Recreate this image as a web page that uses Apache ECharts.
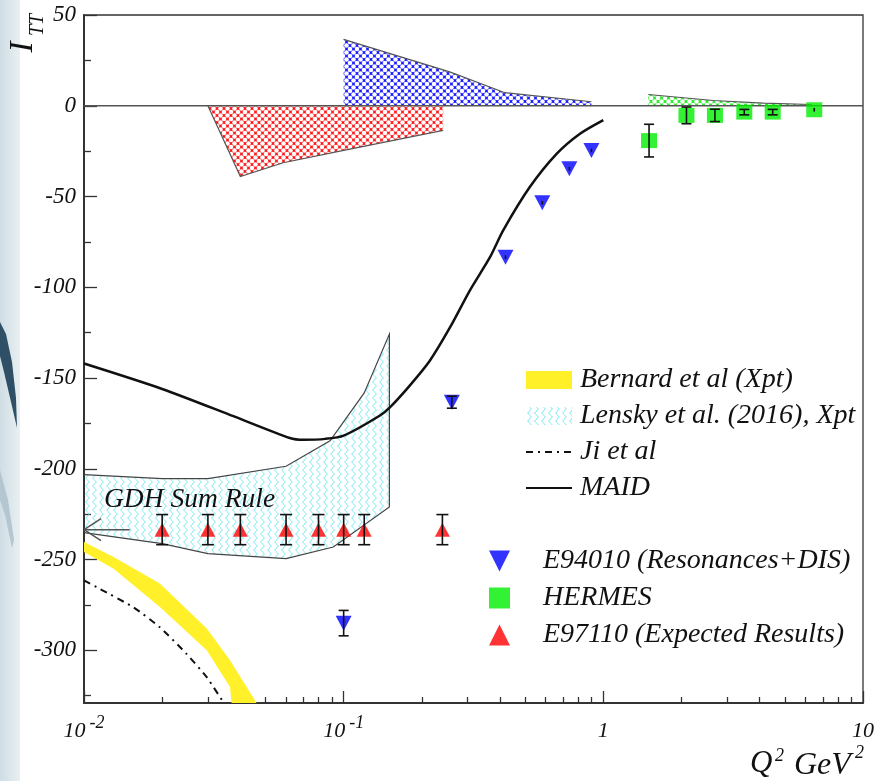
<!DOCTYPE html>
<html><head><meta charset="utf-8">
<script src="https://cdn.jsdelivr.net/npm/echarts@6/dist/echarts.min.js"></script>
<style>html,body{margin:0;padding:0;background:#fff}#c{width:875px;height:781px}</style>
</head><body><div id="c"></div>
<script>
// ---------- axis ticks / labels ----------
const xMajorTicks = [0.01, 0.1, 1, 10];
const xTickBase = ['10', '10', '1', '10'];
const xTickExp = ['-2', '-1', '', ''];
const xMinorTicks = [0.02,0.03,0.04,0.05,0.06,0.07,0.08,0.09,0.2,0.3,0.4,0.5,0.6,0.7,0.8,0.9,2,3,4,5,6,7,8,9];
const yMajorTicks = [-300,-250,-200,-150,-100,-50,0,50];
const yMinorTicks = [-325,-275,-225,-175,-125,-75,-25,25];

// ---------- curves ----------
const maidCurve = [[0.01,-142],[0.02,-156],[0.0376,-171],[0.062,-183],[0.07,-184],[0.085,-183.5],[0.1,-181.7],[0.138,-170.6],[0.151,-166],[0.18,-154],[0.215,-140.3],[0.257,-122],[0.306,-101.8],[0.366,-83.4],[0.412,-68.5],[0.521,-44.8],[0.662,-26.4],[0.813,-15.4],[1.0,-7.9]];
const jiCurve = [[0.01,-261.4],[0.0115,-266.1],[0.0155,-276.3],[0.0196,-287.3],[0.0248,-301.9],[0.0297,-314.8],[0.0344,-328.6]];

// ---------- bands (polygons) ----------
const bernardBand = [[0.01,-240.3],[0.013,-248.6],[0.0196,-263.2],[0.0297,-288.0],[0.0365,-305.5],[0.0462,-329],[0.037,-329],[0.0365,-320.2],[0.0297,-299.9],[0.0196,-276.1],[0.013,-255.0],[0.01,-245.8]];
const lenskyBand = [[0.01,-203.2],[0.02,-205.4],[0.03,-205.4],[0.06,-198.6],[0.0886,-184.6],[0.12,-158.2],[0.15,-125.8],[0.15,-221],[0.0912,-243.1],[0.06,-249.5],[0.03,-246.7],[0.02,-241.2],[0.01,-235.1]];
const redSysBand = [[0.03,0],[0.04,-39],[0.0585,-31.4],[0.1,-24.6],[0.2417,-13.6],[0.2417,0]];
const blueSysBand = [[0.1,0],[0.1,36.6],[0.256,18.7],[0.418,7.2],[0.9,2.2],[0.9,0]];
const greenSysBand = [[1.49,0],[1.49,6.2],[2.65,2.9],[4.13,1.4],[6.34,0.7],[6.6,0]];
const zeroLine = [[0.01,0],[10,0]];
const gdhArrow = [[0.01,-233.5],[0.015,-233.5]];

// ---------- data points [Q2, I_TT, error] ----------
const e94010 = [[0.1,-285,7],[0.261,-163.3,3.3],[0.42,-83.4,1],[0.582,-53.4,1],[0.74,-34.7,1],[0.90,-24.6,1]];
const hermes = [[1.5,-19.2,9],[2.09,-5.3,4.6],[2.69,-5.3,3.4],[3.49,-3.5,1.5],[4.49,-3.5,1.5],[6.49,-2.2,1]];
const e97110 = [[0.02,-233.5,8.3],[0.03,-233.5,8.3],[0.04,-233.5,8.3],[0.06,-233.5,8.3],[0.08,-233.5,8.3],[0.1,-233.5,8.3],[0.12,-233.5,8.3],[0.24,-233.5,8.3]];

const FONT = "'Liberation Serif','Times New Roman',serif";

function makeMesh(color){
  const s=7, c=document.createElement('canvas'); c.width=s; c.height=s;
  const g=c.getContext('2d'); g.fillStyle=color; g.fillRect(0,0,s,s);
  g.fillStyle='#fff';
  [[0,0],[s,0],[0,s],[s,s],[s/2,s/2]].forEach(p=>{g.beginPath();g.arc(p[0],p[1],2.3,0,Math.PI*2);g.fill();});
  return {image:c, repeat:'repeat'};
}
function makeWave(color){
  const w=7, h=8, c=document.createElement('canvas'); c.width=w; c.height=h;
  const g=c.getContext('2d'); g.strokeStyle=color; g.lineWidth=1;
  g.beginPath();
  for(let y=0;y<=h;y+=0.5){const x=w/2+1.5*Math.sin(2*Math.PI*y/h); if(y===0)g.moveTo(x,y); else g.lineTo(x,y);}
  g.stroke();
  return {image:c, repeat:'repeat'};
}
const wavePat = makeWave('#5ee3f2');
const yellow = '#fff02a';

function polySeries(name, pts, fill, edgeFrom, edgeTo, edgeColor, z){
  return {type:'custom', name, z, silent:true, data:pts, encode:{x:0,y:1},
    itemStyle:{color:fill},
    renderItem(params, api){
      if(params.dataIndex!==0) return null;
      const P = pts.map(p=>api.coord(p));
      const ch=[{type:'polygon', shape:{points:P}, style:{fill:fill, stroke:null}}];
      if(edgeColor) ch.push({type:'polyline', shape:{points:P.slice(edgeFrom, edgeTo)}, style:{stroke:edgeColor, lineWidth:1.2, fill:null}});
      return {type:'group', children:ch};
    }};
}
function errSeries(data, capW, z){
  return {type:'custom', silent:true, z, data, encode:{x:0,y:1},
    renderItem(params, api){
      const x=api.value(0), y=api.value(1), e=api.value(2);
      const t=api.coord([x,y+e]), b=api.coord([x,y-e]);
      const st={stroke:'#111', lineWidth:1.6};
      const ch=[{type:'line', shape:{x1:t[0],y1:t[1],x2:b[0],y2:b[1]}, style:st}];
      if(b[1]-t[1]>5){
        ch.push({type:'line', shape:{x1:t[0]-capW/2,y1:t[1],x2:t[0]+capW/2,y2:t[1]}, style:st});
        ch.push({type:'line', shape:{x1:b[0]-capW/2,y1:b[1],x2:b[0]+capW/2,y2:b[1]}, style:st});
      }
      return {type:'group', children:ch};
    }};
}

const chart = echarts.init(document.getElementById('c'), null, {renderer:'canvas'});
const labelFont = {fontFamily:FONT, fontStyle:'italic', color:'#111'};
const downTri = 'path://M0,0 L20,0 L10,20 Z';
const upTri = 'path://M10,0 L20,20 L0,20 Z';

const option = {
  animation:false,
  backgroundColor:'#fff',
  grid:{left:84, right:12, top:15, bottom:78, show:true, borderColor:'#333', borderWidth:1.3, containLabel:false, outerBoundsMode:'none'},
  xAxis:[
    {type:'log', logBase:10, min:0.01, max:10, position:'bottom',
     axisLine:{show:true, onZero:false, lineStyle:{color:'#333', width:2}},
     axisTick:{show:true, inside:true, length:12, customValues:xMajorTicks, lineStyle:{color:'#333', width:1.3}},
     splitLine:{show:false}, minorTick:{show:false},
     axisLabel:{show:true, margin:3, customValues:xMajorTicks,
       formatter:function(v){const i=xMajorTicks.findIndex(t=>Math.abs(Math.log10(t)-Math.log10(v))<1e-6); if(i<0) return ''; return xTickExp[i] ? '{b|'+xTickBase[i]+'}{s|'+xTickExp[i]+'}' : '{b|'+xTickBase[i]+'}';},
       rich:{b:Object.assign({fontSize:22, lineHeight:36, verticalAlign:'bottom'},labelFont), s:Object.assign({fontSize:18, lineHeight:20, verticalAlign:'top', padding:[8,0,0,4]},labelFont)}}},
    {type:'log', logBase:10, min:0.01, max:10, position:'bottom', offset:0,
     axisLine:{show:false, onZero:false}, axisLabel:{show:false}, splitLine:{show:false},
     axisTick:{show:true, inside:true, length:6, customValues:xMinorTicks, lineStyle:{color:'#333', width:1.3}}}
  ],
  yAxis:[
    {type:'value', min:-329, max:50, position:'left',
     axisLine:{show:true, onZero:false, lineStyle:{color:'#333', width:2}},
     axisTick:{show:true, inside:true, length:13, customValues:yMajorTicks, lineStyle:{color:'#333', width:1.3}},
     splitLine:{show:false},
     axisLabel:Object.assign({show:true, margin:8, fontSize:23, customValues:yMajorTicks, formatter:v=>String(v)}, labelFont)},
    {type:'value', min:-329, max:50, position:'left', offset:0,
     axisLine:{show:false, onZero:false}, axisLabel:{show:false}, splitLine:{show:false},
     axisTick:{show:true, inside:true, length:7, customValues:yMinorTicks, lineStyle:{color:'#333', width:1.3}}}
  ],
  legend:[
    {orient:'vertical', left:520, top:360, itemWidth:46, itemHeight:18, itemGap:6, selectedMode:false,
     textStyle:Object.assign({fontSize:28, lineHeight:30, padding:[0,0,0,3]}, labelFont),
     data:[{name:'Bernard et al (Χpt)', icon:'rect', itemStyle:{color:yellow}},
           {name:'Lensky et al. (2016), Χpt', icon:'rect', itemStyle:{color:wavePat}},
           {name:'Ji et al', itemStyle:{opacity:0}},{name:'MAID', itemStyle:{opacity:0}}]},
    {orient:'vertical', left:484, top:541, itemWidth:21, itemHeight:21, itemGap:7, selectedMode:false,
     textStyle:Object.assign({fontSize:28, lineHeight:30, padding:[0,0,0,28]}, labelFont),
     data:[{name:'E94010 (Resonances+DIS)', icon:downTri},{name:'HERMES', icon:'rect'},{name:'E97110 (Expected Results)', icon:upTri}]}
  ],
  graphic:[
    {type:'rect', left:0, top:0, z:-10, shape:{width:20, height:781}, style:{fill:new echarts.graphic.LinearGradient(0,0,1,0,[{offset:0,color:'#cfdde4'},{offset:1,color:'#e9f0f2'}])}},
    {type:'polygon', z:-9, shape:{points:[[0,322],[6,334],[12,362],[16,398],[17,428],[11,402],[4,372],[0,356]]}, style:{fill:'#2e4f66'}},
    {type:'polygon', z:-9, shape:{points:[[0,470],[8,500],[14,540],[12,548],[5,515],[0,500]]}, style:{fill:'#b4c6cf'}},
    {type:'text', x:23, y:47, rotation:Math.PI/2, style:{text:'I', fontSize:33, align:'center', verticalAlign:'middle', fontFamily:FONT, fontStyle:'italic', fill:'#111'}},
    {type:'text', x:38, y:25, rotation:Math.PI/2, style:{text:'TT', fontSize:20, align:'center', verticalAlign:'middle', fontFamily:FONT, fontStyle:'italic', fill:'#111'}},
    {type:'text', x:750, y:764, style:{text:'Q', fontSize:31, align:'left', verticalAlign:'middle', fontFamily:FONT, fontStyle:'italic', fill:'#111'}},
    {type:'text', x:775, y:756, style:{text:'2', fontSize:18, align:'left', verticalAlign:'middle', fontFamily:FONT, fontStyle:'italic', fill:'#111'}},
    {type:'text', x:794, y:766, style:{text:'GeV', fontSize:32, align:'left', verticalAlign:'middle', fontFamily:FONT, fontStyle:'italic', fill:'#111'}},
    {type:'text', x:855, y:753, style:{text:'2', fontSize:18, align:'left', verticalAlign:'middle', fontFamily:FONT, fontStyle:'italic', fill:'#111'}},
    {type:'text', x:104, y:500, z:50, style:{text:'GDH Sum Rule', fontSize:27.5, align:'left', verticalAlign:'middle', fontFamily:FONT, fontStyle:'italic', fill:'#111'}}
  ],
  series:[
    polySeries('Bernard et al (Χpt)', bernardBand, yellow, 0, 0, null, 2),
    polySeries('Lensky et al. (2016), Χpt', lenskyBand, wavePat, 0, lenskyBand.length, '#444', 2),
    polySeries('sysE97110', redSysBand, makeMesh('#ff1a1a'), 0, 5, '#555', 2),
    polySeries('sysE94010', blueSysBand, makeMesh('#1a1aff'), 1, 5, '#555', 2),
    polySeries('sysHERMES', greenSysBand, makeMesh('#22ee22'), 1, 5, '#555', 2),
    {type:'line', name:'zero', data:zeroLine, symbol:'none', silent:true, z:3, lineStyle:{color:'#555', width:1.5}},
    {type:'line', name:'Ji et al', data:jiCurve, symbol:'none', smooth:0.2, z:4, lineStyle:{color:'#111', width:2, type:[7,5,2,5]}, itemStyle:{color:'#111'}},
    {type:'line', name:'MAID', data:maidCurve, symbol:'none', smooth:0.25, z:4, lineStyle:{color:'#111', width:2.5}, itemStyle:{color:'#111'}},
    {type:'custom', name:'gdh', silent:true, z:4, data:gdhArrow, encode:{x:0,y:1},
     renderItem(params, api){
       if(params.dataIndex!==0) return null;
       const a=api.coord(gdhArrow[0]), b=api.coord(gdhArrow[1]);
       const st={stroke:'#555', lineWidth:1.5};
       return {type:'group', children:[
         {type:'line', shape:{x1:a[0],y1:a[1],x2:b[0],y2:b[1]}, style:st},
         {type:'line', shape:{x1:a[0],y1:a[1],x2:a[0]+17,y2:a[1]-11}, style:st},
         {type:'line', shape:{x1:a[0],y1:a[1],x2:a[0]+17,y2:a[1]+11}, style:st}]};
     }},
    {type:'scatter', name:'E94010 (Resonances+DIS)', data:e94010.map(d=>[d[0],d[1]]), symbol:'triangle', symbolRotate:180, symbolSize:[16,15], z:5, itemStyle:{color:'#0000ff'}},
    {type:'scatter', name:'HERMES', data:hermes.map(d=>[d[0],d[1]]), symbol:'rect', symbolSize:[16,15], z:5, itemStyle:{color:'#00ee00'}},
    {type:'scatter', name:'E97110 (Expected Results)', data:e97110.map(d=>[d[0],d[1]]), symbol:'triangle', symbolSize:[15,14], z:5, itemStyle:{color:'#ff0000'}},
    errSeries(e94010, 10, 6),
    errSeries(hermes, 10, 6),
    errSeries(e97110, 12, 6)
  ]
};
chart.setOption(option);
</script></body></html>
